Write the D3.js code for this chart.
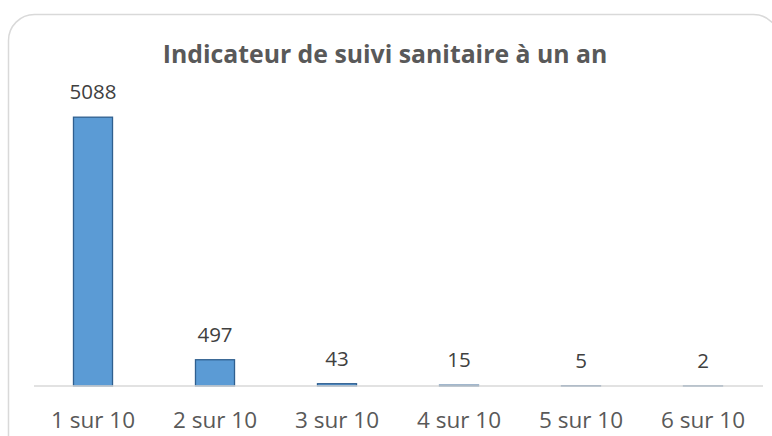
<!DOCTYPE html>
<html>
<head>
<meta charset="utf-8">
<script src="https://cdn.jsdelivr.net/npm/d3@7"></script>
<style>
  body { margin: 0; background: #fff; }
  svg { display: block; }
</style>
</head>
<body>
<div id="chart"></div>
<script>
// Chart data
const categories = ["1 sur 10", "2 sur 10", "3 sur 10", "4 sur 10", "5 sur 10", "6 sur 10"];
const values = [5088, 497, 43, 15, 5, 2];
const title = "Indicateur de suivi sanitaire à un an";

const width = 772, height = 436;

const svg = d3.select("#chart").append("svg")
    .attr("width", width)
    .attr("height", height);

// Chart frame with rounded corners (runs off the right and bottom edges)
svg.append("rect")
    .attr("x", 8.5)
    .attr("y", 14.5)
    .attr("width", 771)
    .attr("height", 460)
    .attr("rx", 26)
    .attr("fill", "#fff")
    .attr("stroke", "#d9d9d9")
    .attr("stroke-width", 1.5);

// Scales
const x = d3.scaleBand()
    .domain(categories)
    .range([32, 764])
    .paddingInner(0.68)
    .paddingOuter(0.34);

const baseY = 386;
const y = d3.scaleLinear()
    .domain([0, 6000])
    .range([baseY, baseY - 317]);

// Bars
svg.selectAll(".bar")
    .data(values)
  .enter().append("rect")
    .attr("class", "bar")
    .attr("x", (d, i) => x(categories[i]))
    .attr("y", d => y(d))
    .attr("width", x.bandwidth())
    .attr("height", d => baseY - y(d))
    .attr("fill", "#5b9bd5")
    .attr("stroke", "#2f5f8f")
    .attr("stroke-width", 1.3);

// Category axis
const axis = svg.append("g")
    .attr("transform", `translate(0,${baseY})`)
    .call(d3.axisBottom(x).tickSize(0).tickPadding(26));
axis.select(".domain")
    .attr("stroke", "#d9d9d9")
    .attr("stroke-width", 1.5)
    .attr("d", "M34,0H763");
axis.selectAll("text")
    .attr("font-family", "Open Sans")
    .attr("font-size", 22.5)
    .attr("fill", "#595959")
    .attr("dy", "0.71em");

// Data labels
svg.selectAll(".label")
    .data(values)
  .enter().append("text")
    .attr("class", "label")
    .attr("x", (d, i) => x(categories[i]) + x.bandwidth() / 2)
    .attr("y", d => y(d) - 18)
    .attr("text-anchor", "middle")
    .attr("font-family", "Open Sans")
    .attr("font-size", 20.5)
    .attr("fill", "#404040")
    .text(d => d);

// Title
svg.append("text")
    .attr("x", 385)
    .attr("y", 63)
    .attr("text-anchor", "middle")
    .attr("font-family", "Open Sans")
    .attr("font-weight", "bold")
    .attr("font-size", 24.8)
    .attr("fill", "#595959")
    .text(title);
</script>
</body>
</html>
